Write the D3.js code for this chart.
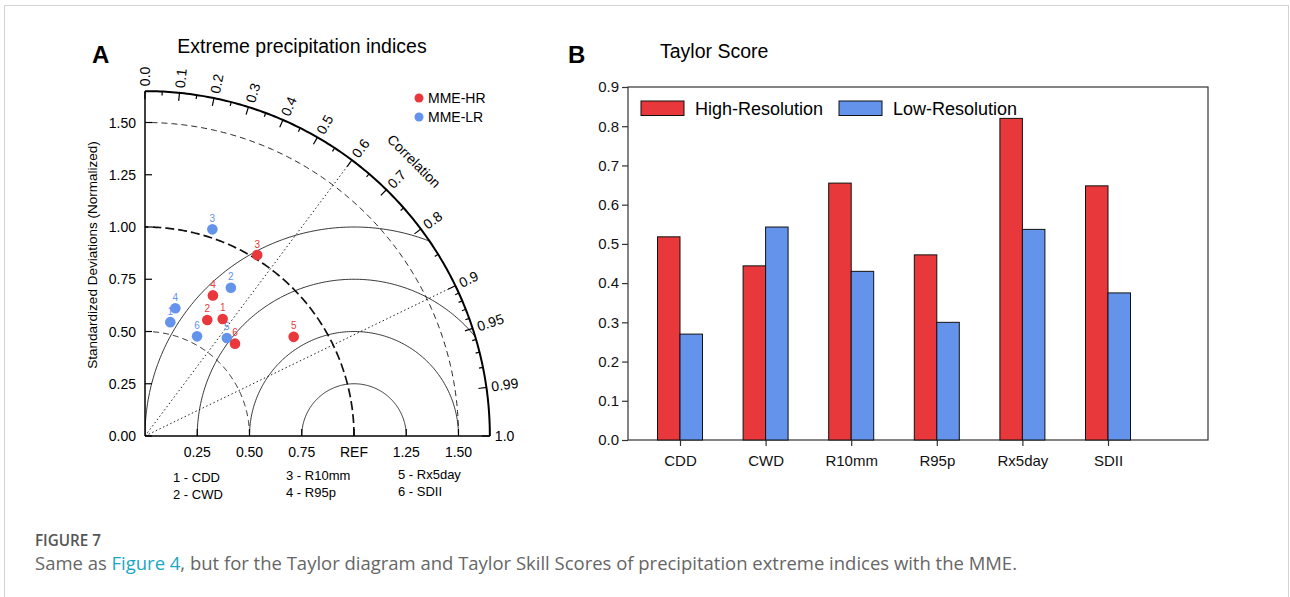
<!DOCTYPE html>
<html>
<head>
<meta charset="utf-8">
<script src="https://cdn.jsdelivr.net/npm/d3@7"></script>
<style>
  body { margin: 0; background: #fff; }
  svg { display: block; font-family: "Liberation Sans", Arial, sans-serif; }
</style>
</head>
<body>
<svg id="fig" width="1290" height="597"></svg>
<script>
// data
var indices = ["CDD", "CWD", "R10mm", "R95p", "Rx5day", "SDII"];
var hrStd  = [0.672, 0.630, 1.019, 0.747, 0.855, 0.617];
var hrCorr = [0.553, 0.473, 0.527, 0.435, 0.832, 0.698];
var lrStd  = [0.558, 0.820, 1.040, 0.628, 0.611, 0.538];
var lrCorr = [0.217, 0.501, 0.310, 0.231, 0.641, 0.463];
var scoreHR = [0.518, 0.444, 0.655, 0.472, 0.820, 0.648];
var scoreLR = [0.270, 0.543, 0.430, 0.300, 0.537, 0.375];
var stdTicks = [0, 0.25, 0.5, 0.75, 1.0, 1.25, 1.5];
var corrMajor = [0, 0.1, 0.2, 0.3, 0.4, 0.5, 0.6, 0.7, 0.8, 0.9, 0.95, 0.99, 1.0];
var scoreTicks = [0, 0.1, 0.2, 0.3, 0.4, 0.5, 0.6, 0.7, 0.8, 0.9];

var red = "#e8383b", blue = "#6393ea";

var svg = d3.select("#fig");
svg.append("rect").attr("x", 4.5).attr("y", 5.5).attr("width", 1284).attr("height", 620)
  .attr("fill", "none").attr("stroke", "#d3d3d3");

// ---------- A : Taylor diagram ----------
var ox = 145, oy = 436, rMax = 1.65;
var r = d3.scaleLinear().domain([0, 1]).range([0, 209]);
var ta = svg.append("g");

function pt(s, c) {
  var t = Math.acos(c);
  return [ox + r(s) * Math.cos(t), oy - r(s) * Math.sin(t)];
}
function arcPath(cx, rad, a0, a1) {
  var pts = d3.range(0, 181).map(function (i) {
    var a = a0 + (a1 - a0) * i / 180;
    return [ox + r(cx) + r(rad) * Math.cos(a), oy - r(rad) * Math.sin(a)];
  });
  return d3.line()(pts);
}

svg.append("defs").append("clipPath").attr("id", "quarter")
  .append("path")
  .attr("d", "M" + ox + "," + oy + "L" + (ox + r(rMax)) + "," + oy + arcPath(0, rMax, 0, Math.PI / 2).replace("M", "L") + "Z");

// rms arcs around REF
var rms = ta.append("g").attr("clip-path", "url(#quarter)");
[0.25, 0.5, 0.75, 1.0].forEach(function (d) {
  rms.append("path").attr("d", arcPath(1, d, 0, Math.PI))
    .attr("fill", "none").attr("stroke", "#222").attr("stroke-width", 0.9);
});

// std dev dashed arcs
[0.5, 1.0, 1.5].forEach(function (d) {
  ta.append("path").attr("d", arcPath(0, d, 0, Math.PI / 2))
    .attr("fill", "none").attr("stroke", "#111")
    .attr("stroke-width", d == 1 ? 1.7 : 0.9)
    .attr("stroke-dasharray", d == 1 ? "9,4" : "6,4");
});

// dotted correlation lines
[0.6, 0.9].forEach(function (c) {
  var p = pt(rMax, c);
  ta.append("line").attr("x1", ox).attr("y1", oy).attr("x2", p[0]).attr("y2", p[1])
    .attr("stroke", "#222").attr("stroke-width", 1).attr("stroke-dasharray", "1.5,2.5");
});

// outer arc and axes
ta.append("path").attr("d", arcPath(0, rMax, 0, Math.PI / 2))
  .attr("fill", "none").attr("stroke", "#000").attr("stroke-width", 2);
ta.append("line").attr("x1", ox).attr("y1", oy).attr("x2", ox).attr("y2", oy - r(rMax))
  .attr("stroke", "#000").attr("stroke-width", 1.5);
ta.append("line").attr("x1", ox).attr("y1", oy).attr("x2", ox + r(rMax)).attr("y2", oy)
  .attr("stroke", "#000").attr("stroke-width", 1.5);

// std ticks
stdTicks.forEach(function (d) {
  ta.append("line").attr("x1", ox).attr("x2", ox + 7).attr("y1", oy - r(d)).attr("y2", oy - r(d))
    .attr("stroke", "#000").attr("stroke-width", 1.2);
  ta.append("text").attr("x", ox - 9).attr("y", oy - r(d) + 5).attr("text-anchor", "end")
    .attr("font-size", 14).text(d3.format(".2f")(d));
  if (d > 0) {
    ta.append("line").attr("x1", ox + r(d)).attr("x2", ox + r(d)).attr("y1", oy).attr("y2", oy - 7)
      .attr("stroke", "#000").attr("stroke-width", 1.2);
    ta.append("text").attr("x", ox + r(d)).attr("y", oy + 21).attr("text-anchor", "middle")
      .attr("font-size", 14).text(d == 1 ? "REF" : d3.format(".2f")(d));
  }
});

ta.append("text").attr("transform", "translate(97,255) rotate(-90)").attr("text-anchor", "middle")
  .attr("font-size", 13.5).text("Standardized Deviations (Normalized)");

// correlation ticks
var corrMinor = d3.range(0.05, 0.9, 0.1).concat([0.91, 0.92, 0.93, 0.94, 0.96, 0.97, 0.98]);
function corrTick(c, len) {
  var p0 = pt(rMax, c), t = Math.acos(c);
  ta.append("line").attr("x1", p0[0]).attr("y1", p0[1])
    .attr("x2", p0[0] - len * Math.cos(t)).attr("y2", p0[1] + len * Math.sin(t))
    .attr("stroke", "#000").attr("stroke-width", 1.2);
}
corrMajor.forEach(function (c) { corrTick(c, 8); });
corrMinor.forEach(function (c) { corrTick(c, 4); });
corrMajor.forEach(function (c) {
  var t = Math.acos(c), rr = r(rMax) + 5;
  ta.append("text")
    .attr("transform", "translate(" + (ox + rr * Math.cos(t)) + "," + (oy - rr * Math.sin(t)) + ") rotate(" + (-t * 180 / Math.PI) + ")")
    .attr("dy", "0.35em").attr("font-size", 14).text(c == 1 ? "1.0" : String(c).replace(/^0$/, "0.0"));
});
ta.append("text").attr("transform", "translate(414,161) rotate(45)").attr("text-anchor", "middle")
  .attr("dy", "0.35em").attr("font-size", 14).text("Correlation");

// points
function drawSet(std, corr, col) {
  indices.forEach(function (name, i) {
    var p = pt(std[i], corr[i]);
    ta.append("circle").attr("cx", p[0]).attr("cy", p[1]).attr("r", 5.3).attr("fill", col);
    ta.append("text").attr("x", p[0]).attr("y", p[1] - 7.5).attr("text-anchor", "middle")
      .attr("font-size", 10).attr("fill", col).text(i + 1);
  });
}
drawSet(lrStd, lrCorr, blue);
drawSet(hrStd, hrCorr, red);

// legend
[["MME-HR", red], ["MME-LR", blue]].forEach(function (d, i) {
  ta.append("circle").attr("cx", 419).attr("cy", 98 + i * 19).attr("r", 4.5).attr("fill", d[1]);
  ta.append("text").attr("x", 428).attr("y", 103 + i * 19).attr("font-size", 14).text(d[0]);
});

// index key
var key = indices.map(function (d, i) { return (i + 1) + " - " + d; });
key.forEach(function (d, i) {
  var col = Math.floor(i / 2), row = i % 2;
  ta.append("text").attr("x", [173, 286, 398][col]).attr("y", [482, 480, 479][col] + row * 17)
    .attr("font-size", 13).text(d);
});

ta.append("text").attr("x", 92).attr("y", 63).attr("font-size", 24).attr("font-weight", "bold").text("A");
ta.append("text").attr("x", 302).attr("y", 53).attr("text-anchor", "middle").attr("font-size", 19.5)
  .text("Extreme precipitation indices");

// ---------- B : Taylor score bars ----------
var bx0 = 628, bx1 = 1208;
var y = d3.scaleLinear().domain([0, 0.9]).range([440, 87]);
var x = d3.scalePoint().domain(indices).range([680, 1108]);
var bw = 22.5;
var tb = svg.append("g");

tb.append("rect").attr("x", bx0).attr("y", y(0.9)).attr("width", bx1 - bx0).attr("height", y(0) - y(0.9))
  .attr("fill", "none").attr("stroke", "#333").attr("stroke-width", 1.2);

tb.selectAll(".hr").data(scoreHR).enter().append("rect")
  .attr("x", function (d, i) { return x(indices[i]) - bw; })
  .attr("y", function (d) { return y(d); })
  .attr("width", bw).attr("height", function (d) { return y(0) - y(d); })
  .attr("fill", red).attr("stroke", "#111").attr("stroke-width", 1);
tb.selectAll(".lr").data(scoreLR).enter().append("rect")
  .attr("x", function (d, i) { return x(indices[i]); })
  .attr("y", function (d) { return y(d); })
  .attr("width", bw).attr("height", function (d) { return y(0) - y(d); })
  .attr("fill", blue).attr("stroke", "#111").attr("stroke-width", 1);

var ya = tb.append("g").attr("transform", "translate(" + bx0 + ",0)")
  .call(d3.axisLeft(y).tickValues(scoreTicks).tickFormat(d3.format(".1f")).tickSizeOuter(0).tickSize(6));
var xa = tb.append("g").attr("transform", "translate(0," + y(0) + ")")
  .call(d3.axisBottom(x).tickSizeOuter(0).tickSize(6));
[ya, xa].forEach(function (a) {
  a.select(".domain").remove();
  a.selectAll("line").attr("stroke", "#333").attr("stroke-width", 1.2);
  a.selectAll("text").attr("font-family", "Liberation Sans, Arial, sans-serif").attr("font-size", 15).attr("fill", "#111");
});
ya.selectAll("text").attr("x", -9);
xa.selectAll("text").attr("y", 15);

[["High-Resolution", red, 641], ["Low-Resolution", blue, 839]].forEach(function (d) {
  tb.append("rect").attr("x", d[2]).attr("y", 101).attr("width", 43).attr("height", 14.5)
    .attr("fill", d[1]).attr("stroke", "#111").attr("stroke-width", 1);
  tb.append("text").attr("x", d[2] + 54).attr("y", 114.5).attr("font-size", 18).text(d[0]);
});

tb.append("text").attr("x", 568).attr("y", 63).attr("font-size", 24).attr("font-weight", "bold").text("B");
tb.append("text").attr("x", 660).attr("y", 58).attr("font-size", 19.5).text("Taylor Score");

// ---------- caption ----------
var cap = svg.append("g").attr("font-family", "'Open Sans', sans-serif");
cap.append("text").attr("x", 35).attr("y", 546).attr("font-size", 16).attr("fill", "#555")
  .attr("font-weight", 600).attr("textLength", 66).attr("lengthAdjust", "spacingAndGlyphs").text("FIGURE 7");
var line = cap.append("text").attr("x", 35).attr("y", 570).attr("font-size", 17.5).attr("fill", "#666")
  .attr("textLength", 982).attr("lengthAdjust", "spacingAndGlyphs");
line.append("tspan").text("Same as ");
line.append("tspan").attr("fill", "#1aa7c4").text("Figure 4");
line.append("tspan").text(", but for the Taylor diagram and Taylor Skill Scores of precipitation extreme indices with the MME.");
</script>
</body>
</html>
